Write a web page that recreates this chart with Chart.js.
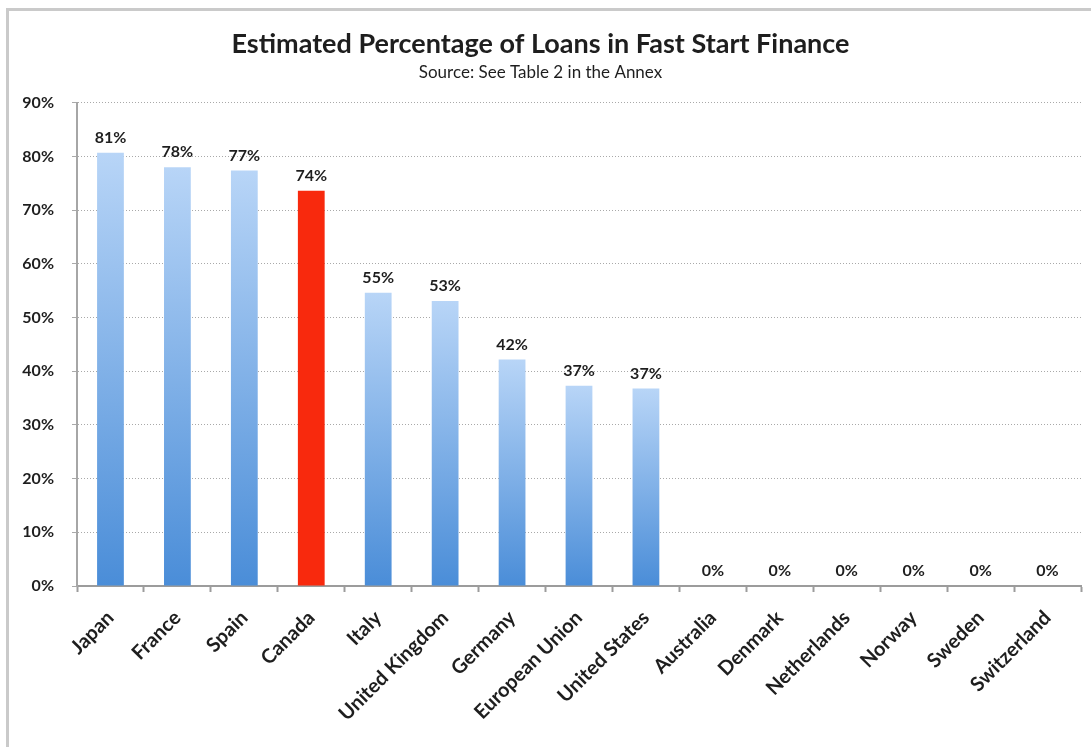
<!DOCTYPE html>
<html>
<head>
<meta charset="utf-8">
<script src="https://cdn.jsdelivr.net/npm/chart.js@4/dist/chart.umd.min.js"></script>
<style>
  html, body { margin: 0; padding: 0; background: #fff; overflow: hidden; }
  #wrap { position: relative; width: 1091px; height: 747px; }
  #frame {
    position: absolute; left: 6px; top: 8px; width: 2000px; height: 2000px;
    border-top: 3px solid #cacaca; border-left: 3px solid #cacaca;
  }
  #chart { position: absolute; left: 0; top: 0; }
</style>
</head>
<body>
<div id="wrap">
  <div id="frame"></div>
  <canvas id="chart" width="1091" height="747"></canvas>
</div>
<script>
const countries = ['Japan', 'France', 'Spain', 'Canada', 'Italy', 'United Kingdom', 'Germany',
    'European Union', 'United States', 'Australia', 'Denmark', 'Netherlands', 'Norway', 'Sweden', 'Switzerland'];
const loanShare = [80.7, 78.0, 77.4, 73.6, 54.6, 53.1, 42.2, 37.3, 36.8, 0, 0, 0, 0, 0, 0];
const yTicks = [0, 10, 20, 30, 40, 50, 60, 70, 80, 90];
const highlighted = 'Canada';

const titleText = 'Estimated Percentage of Loans in Fast Start Finance';
const subtitleText = 'Source: See Table 2 in the Annex';
const fontFamily = 'Lato, "Open Sans", sans-serif';
const textColor = '#1e1e1e';

// value labels over each bar
const valueLabels = {
    id: 'valueLabels',
    afterDatasetsDraw(chart) {
        const ctx = chart.ctx;
        const meta = chart.getDatasetMeta(0);
        ctx.save();
        ctx.font = 'bold 16px ' + fontFamily;
        ctx.fillStyle = textColor;
        ctx.textAlign = 'center';
        ctx.textBaseline = 'bottom';
        meta.data.forEach((bar, i) => {
            ctx.fillText(Math.round(loanShare[i]) + '%', bar.x, bar.y - 7);
        });
        ctx.restore();
    }
};

function barColor(c) {
    const chart = c.chart;
    const area = chart.chartArea;
    if (!area) return '#6fa8e6';
    if (countries[c.dataIndex] === highlighted) return '#f8290d';
    const y = chart.scales.y;
    const top = y.getPixelForValue(loanShare[c.dataIndex]);
    const base = y.getPixelForValue(0);
    if (base - top < 1) return '#4b8fd9';
    const g = chart.ctx.createLinearGradient(0, top, 0, base);
    g.addColorStop(0, '#b8d5f7');
    g.addColorStop(1, '#4a8dd8');
    return g;
}

const ctx = document.getElementById('chart').getContext('2d');
const myChart = new Chart(ctx, {
    type: 'bar',
    data: {
        labels: countries,
        datasets: [{
            data: loanShare,
            backgroundColor: barColor,
            borderWidth: 0,
            barPercentage: 0.4,
            categoryPercentage: 1.0
        }]
    },
    plugins: [valueLabels],
    options: {
        responsive: false,
        animation: false,
        layout: { padding: { left: 0, right: 10, top: 0, bottom: 0 } },
        plugins: {
            legend: { display: false },
            tooltip: { enabled: false },
            title: {
                display: true,
                text: titleText,
                color: textColor,
                font: { family: fontFamily, size: 27, weight: 'bold' },
                padding: { top: 28, bottom: 0 }
            },
            subtitle: {
                display: true,
                text: subtitleText,
                color: textColor,
                font: { family: fontFamily, size: 17 },
                padding: { top: 2, bottom: 20 }
            }
        },
        scales: {
            x: {
                afterFit(scale) { scale.height = 161; },
                border: { display: true, color: '#9c9c9c', width: 2 },
                grid: {
                    offset: true,
                    drawOnChartArea: false,
                    drawTicks: true,
                    tickLength: 6,
                    tickColor: '#9c9c9c',
                    tickWidth: 2
                },
                ticks: {
                    color: textColor,
                    font: { family: fontFamily, size: 20, weight: 'bold' },
                    maxRotation: 45,
                    minRotation: 45,
                    autoSkip: false,
                    padding: 14
                }
            },
            y: {
                min: 0,
                max: 90,
                afterFit(scale) { scale.width = 77; },
                afterBuildTicks(scale) { scale.ticks = yTicks.map(v => ({ value: v })); },
                border: { display: true, color: '#a6a6a6', width: 2, dash: [1, 2] },
                grid: {
                    color: '#a9a9a9',
                    lineWidth: 1,
                    tickLength: 5,
                    tickColor: '#a9a9a9'
                },
                ticks: {
                    color: textColor,
                    font: { family: fontFamily, size: 16, weight: 'bold' },
                    padding: 18,
                    callback: v => v + '%'
                }
            }
        }
    }
});
</script>
</body>
</html>
